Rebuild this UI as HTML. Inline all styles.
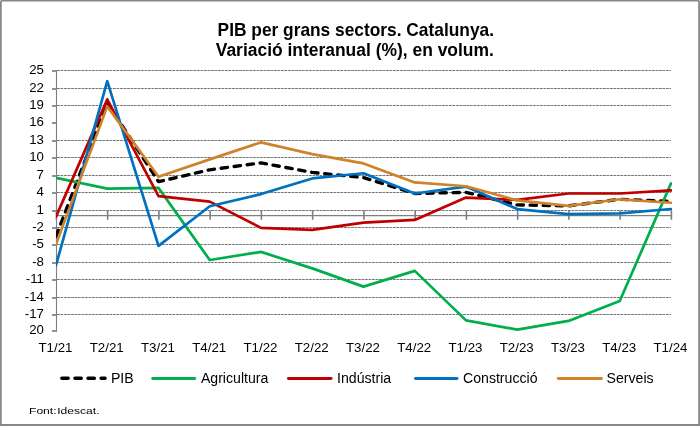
<!DOCTYPE html>
<html lang="ca"><head><meta charset="utf-8"><title>PIB per grans sectors. Catalunya.</title>
<style>
html,body{margin:0;padding:0;background:#fff}
body{width:700px;height:426px;position:relative;overflow:hidden;font-family:"Liberation Sans",Arial,sans-serif;color:#000}
#frame{position:absolute;left:0;top:0;width:700px;height:426px;box-sizing:border-box;border:2px solid #878787}
.title{position:absolute;left:0;width:709.6px;text-align:center;font-weight:bold;font-size:17.33px;line-height:20px;white-space:nowrap;transform-origin:50% 16.1px;transform:scaleY(1.05)}
.yl{position:absolute;left:0;width:43.9px;text-align:right;font-size:13.2px;line-height:14px;height:14px}
.xl{position:absolute;top:340.5px;width:60px;text-align:center;font-size:13.3px;line-height:14px}
.lg{position:absolute;top:370.15px;font-size:14.12px;line-height:16px;white-space:nowrap}
.src{position:absolute;left:28.9px;top:405.3px;font-size:9.8px;line-height:12px;white-space:nowrap;word-spacing:-2.27px;transform-origin:0 0;transform:scaleX(1.235)}
</style></head><body>
<svg width="700" height="426" viewBox="0 0 700 426" style="position:absolute;left:0;top:0">
<rect x="0" y="0" width="700" height="426" fill="#fff"/>
<rect x="0" y="0" width="700" height="1.5" fill="#878787"/>
<rect x="0" y="424" width="700" height="2" fill="#878787"/>
<rect x="0" y="0" width="1.75" height="426" fill="#878787"/>
<rect x="698.2" y="0" width="1.8" height="426" fill="#878787"/>
<rect x="0" y="0" width="1" height="1" fill="#d8d8d8"/>
<rect x="699" y="0" width="1" height="1" fill="#d8d8d8"/>
<line x1="57.0" x2="671" y1="70.50" y2="70.50" stroke="#666" stroke-width="0.9" stroke-dasharray="2.8 0.7"/>
<line x1="57.0" x2="671" y1="88.50" y2="88.50" stroke="#666" stroke-width="0.9" stroke-dasharray="2.8 0.7"/>
<line x1="57.0" x2="671" y1="105.50" y2="105.50" stroke="#666" stroke-width="0.9" stroke-dasharray="2.8 0.7"/>
<line x1="57.0" x2="671" y1="140.50" y2="140.50" stroke="#666" stroke-width="0.9" stroke-dasharray="2.8 0.7"/>
<line x1="57.0" x2="671" y1="157.50" y2="157.50" stroke="#666" stroke-width="0.9" stroke-dasharray="2.8 0.7"/>
<line x1="57.0" x2="671" y1="175.50" y2="175.50" stroke="#666" stroke-width="0.9" stroke-dasharray="2.8 0.7"/>
<line x1="57.0" x2="671" y1="192.50" y2="192.50" stroke="#666" stroke-width="0.9" stroke-dasharray="2.8 0.7"/>
<line x1="57.0" x2="671" y1="210.50" y2="210.50" stroke="#666" stroke-width="0.9" stroke-dasharray="2.8 0.7"/>
<line x1="57.0" x2="671" y1="227.50" y2="227.50" stroke="#666" stroke-width="0.9" stroke-dasharray="2.8 0.7"/>
<line x1="57.0" x2="671" y1="244.50" y2="244.50" stroke="#666" stroke-width="0.9" stroke-dasharray="2.8 0.7"/>
<line x1="57.0" x2="671" y1="262.50" y2="262.50" stroke="#666" stroke-width="0.9" stroke-dasharray="2.8 0.7"/>
<line x1="57.0" x2="671" y1="279.50" y2="279.50" stroke="#666" stroke-width="0.9" stroke-dasharray="2.8 0.7"/>
<line x1="57.0" x2="671" y1="297.50" y2="297.50" stroke="#666" stroke-width="0.9" stroke-dasharray="2.8 0.7"/>
<line x1="57.0" x2="671" y1="314.50" y2="314.50" stroke="#666" stroke-width="0.9" stroke-dasharray="2.8 0.7"/>
<line x1="56.5" x2="56.5" y1="70.50" y2="331.10" stroke="#7f7f7f" stroke-width="1.1"/>
<line x1="52" x2="57" y1="71.00" y2="71.00" stroke="#7f7f7f" stroke-width="1.7"/>
<line x1="52" x2="57" y1="89.00" y2="89.00" stroke="#7f7f7f" stroke-width="1.7"/>
<line x1="52" x2="57" y1="106.00" y2="106.00" stroke="#7f7f7f" stroke-width="1.7"/>
<line x1="52" x2="57" y1="123.00" y2="123.00" stroke="#7f7f7f" stroke-width="1.7"/>
<line x1="52" x2="57" y1="141.00" y2="141.00" stroke="#7f7f7f" stroke-width="1.7"/>
<line x1="52" x2="57" y1="158.00" y2="158.00" stroke="#7f7f7f" stroke-width="1.7"/>
<line x1="52" x2="57" y1="176.00" y2="176.00" stroke="#7f7f7f" stroke-width="1.7"/>
<line x1="52" x2="57" y1="193.00" y2="193.00" stroke="#7f7f7f" stroke-width="1.7"/>
<line x1="52" x2="57" y1="211.00" y2="211.00" stroke="#7f7f7f" stroke-width="1.7"/>
<line x1="52" x2="57" y1="228.00" y2="228.00" stroke="#7f7f7f" stroke-width="1.7"/>
<line x1="52" x2="57" y1="245.00" y2="245.00" stroke="#7f7f7f" stroke-width="1.7"/>
<line x1="52" x2="57" y1="263.00" y2="263.00" stroke="#7f7f7f" stroke-width="1.7"/>
<line x1="52" x2="57" y1="280.00" y2="280.00" stroke="#7f7f7f" stroke-width="1.7"/>
<line x1="52" x2="57" y1="298.00" y2="298.00" stroke="#7f7f7f" stroke-width="1.7"/>
<line x1="52" x2="57" y1="315.00" y2="315.00" stroke="#7f7f7f" stroke-width="1.7"/>
<line x1="52" x2="57" y1="331.00" y2="331.00" stroke="#7f7f7f" stroke-width="1.7"/>
<line x1="56" x2="671.6" y1="215.6" y2="215.6" stroke="#7f7f7f" stroke-width="1.1"/>
<line x1="56.40" x2="56.40" y1="210.4" y2="219.8" stroke="#7f7f7f" stroke-width="1.6"/>
<line x1="107.65" x2="107.65" y1="210.4" y2="219.8" stroke="#7f7f7f" stroke-width="1.6"/>
<line x1="158.90" x2="158.90" y1="210.4" y2="219.8" stroke="#7f7f7f" stroke-width="1.6"/>
<line x1="210.15" x2="210.15" y1="210.4" y2="219.8" stroke="#7f7f7f" stroke-width="1.6"/>
<line x1="261.40" x2="261.40" y1="210.4" y2="219.8" stroke="#7f7f7f" stroke-width="1.6"/>
<line x1="312.65" x2="312.65" y1="210.4" y2="219.8" stroke="#7f7f7f" stroke-width="1.6"/>
<line x1="363.90" x2="363.90" y1="210.4" y2="219.8" stroke="#7f7f7f" stroke-width="1.6"/>
<line x1="415.15" x2="415.15" y1="210.4" y2="219.8" stroke="#7f7f7f" stroke-width="1.6"/>
<line x1="466.40" x2="466.40" y1="210.4" y2="219.8" stroke="#7f7f7f" stroke-width="1.6"/>
<line x1="517.65" x2="517.65" y1="210.4" y2="219.8" stroke="#7f7f7f" stroke-width="1.6"/>
<line x1="568.90" x2="568.90" y1="210.4" y2="219.8" stroke="#7f7f7f" stroke-width="1.6"/>
<line x1="620.15" x2="620.15" y1="210.4" y2="219.8" stroke="#7f7f7f" stroke-width="1.6"/>
<line x1="671.40" x2="671.40" y1="210.4" y2="219.8" stroke="#7f7f7f" stroke-width="1.6"/>
<defs><clipPath id="cp"><rect x="56" y="60" width="616" height="280"/></clipPath></defs>
<g clip-path="url(#cp)" fill="none" stroke-linejoin="round">
<polyline points="56.00,236.29 107.25,102.71 158.50,181.64 209.75,169.79 261.00,162.85 312.25,172.39 363.50,177.60 414.75,193.50 466.00,192.34 517.25,204.89 568.50,205.88 619.75,199.28 671.00,201.42" stroke="#000" stroke-width="3.35" stroke-dasharray="6.4 6.7" stroke-linecap="round"/>
<polyline points="56.00,177.89 107.25,188.64 158.50,187.89 209.75,260.00 261.00,251.91 312.25,268.39 363.50,286.61 414.75,270.88 466.00,320.38 517.25,329.63 568.50,320.90 619.75,301.06 671.00,183.38" stroke="#00ae4c" stroke-width="2.7" stroke-linecap="round"/>
<polyline points="56.00,216.63 107.25,99.35 158.50,196.16 209.75,201.60 261.00,227.91 312.25,229.93 363.50,222.70 414.75,219.93 466.00,197.55 517.25,199.86 568.50,193.50 619.75,193.50 671.00,190.38" stroke="#c00000" stroke-width="2.7" stroke-linecap="round"/>
<polyline points="56.00,265.21 107.25,81.19 158.50,245.89 209.75,206.22 261.00,194.08 312.25,178.46 363.50,173.26 414.75,193.50 466.00,186.56 517.25,209.11 568.50,214.14 619.75,213.39 671.00,209.00" stroke="#0070c0" stroke-width="2.7" stroke-linecap="round"/>
<polyline points="56.00,244.39 107.25,106.35 158.50,176.73 209.75,159.38 261.00,142.38 312.25,154.18 363.50,163.43 414.75,182.40 466.00,186.27 517.25,200.44 568.50,205.88 619.75,199.28 671.00,202.75" stroke="#d0822a" stroke-width="2.7" stroke-linecap="round"/>
</g>
<line x1="61.8" x2="105.1" y1="378.2" y2="378.2" stroke="#000" stroke-width="3.35" stroke-dasharray="6.4 6.7" stroke-linecap="round"/>
<line x1="152.70000000000002" x2="194.7" y1="378.45" y2="378.45" stroke="#00ae4c" stroke-width="2.9" stroke-linecap="round"/>
<line x1="288.40000000000003" x2="331.09999999999997" y1="378.45" y2="378.45" stroke="#c00000" stroke-width="2.9" stroke-linecap="round"/>
<line x1="415.5" x2="457.0" y1="378.45" y2="378.45" stroke="#0070c0" stroke-width="2.9" stroke-linecap="round"/>
<line x1="558.3" x2="601.4000000000001" y1="378.45" y2="378.45" stroke="#d0822a" stroke-width="2.9" stroke-linecap="round"/>
</svg>
<div class="title" style="top:19.6px;left:1px">PIB per grans sectors. Catalunya.</div>
<div class="title" style="top:39.6px;font-size:17.45px;left:0px">Variació interanual (%), en volum.</div>
<div class="yl" style="top:63.30px">25</div><div class="yl" style="top:81.30px">22</div><div class="yl" style="top:98.30px">19</div><div class="yl" style="top:115.30px">16</div><div class="yl" style="top:133.30px">13</div><div class="yl" style="top:150.30px">10</div><div class="yl" style="top:168.30px">7</div><div class="yl" style="top:185.30px">4</div><div class="yl" style="top:203.30px">1</div><div class="yl" style="top:220.30px">-2</div><div class="yl" style="top:237.30px">-5</div><div class="yl" style="top:255.30px">-8</div><div class="yl" style="top:272.30px">-11</div><div class="yl" style="top:290.30px">-14</div><div class="yl" style="top:307.30px">-17</div><div class="yl" style="top:323.30px">20</div>
<div class="xl" style="left:25.50px">T1/21</div><div class="xl" style="left:76.75px">T2/21</div><div class="xl" style="left:128.00px">T3/21</div><div class="xl" style="left:179.25px">T4/21</div><div class="xl" style="left:230.50px">T1/22</div><div class="xl" style="left:281.75px">T2/22</div><div class="xl" style="left:333.00px">T3/22</div><div class="xl" style="left:384.25px">T4/22</div><div class="xl" style="left:435.50px">T1/23</div><div class="xl" style="left:486.75px">T2/23</div><div class="xl" style="left:538.00px">T3/23</div><div class="xl" style="left:589.25px">T4/23</div><div class="xl" style="left:640.50px">T1/24</div>
<div class="lg" style="left:110.9px">PIB</div><div class="lg" style="left:200.9px">Agricultura</div><div class="lg" style="left:337.1px">Indústria</div><div class="lg" style="left:463.0px">Construcció</div><div class="lg" style="left:606.6px">Serveis</div>
<div class="src" id="src">Font: Idescat.</div>
</body></html>
